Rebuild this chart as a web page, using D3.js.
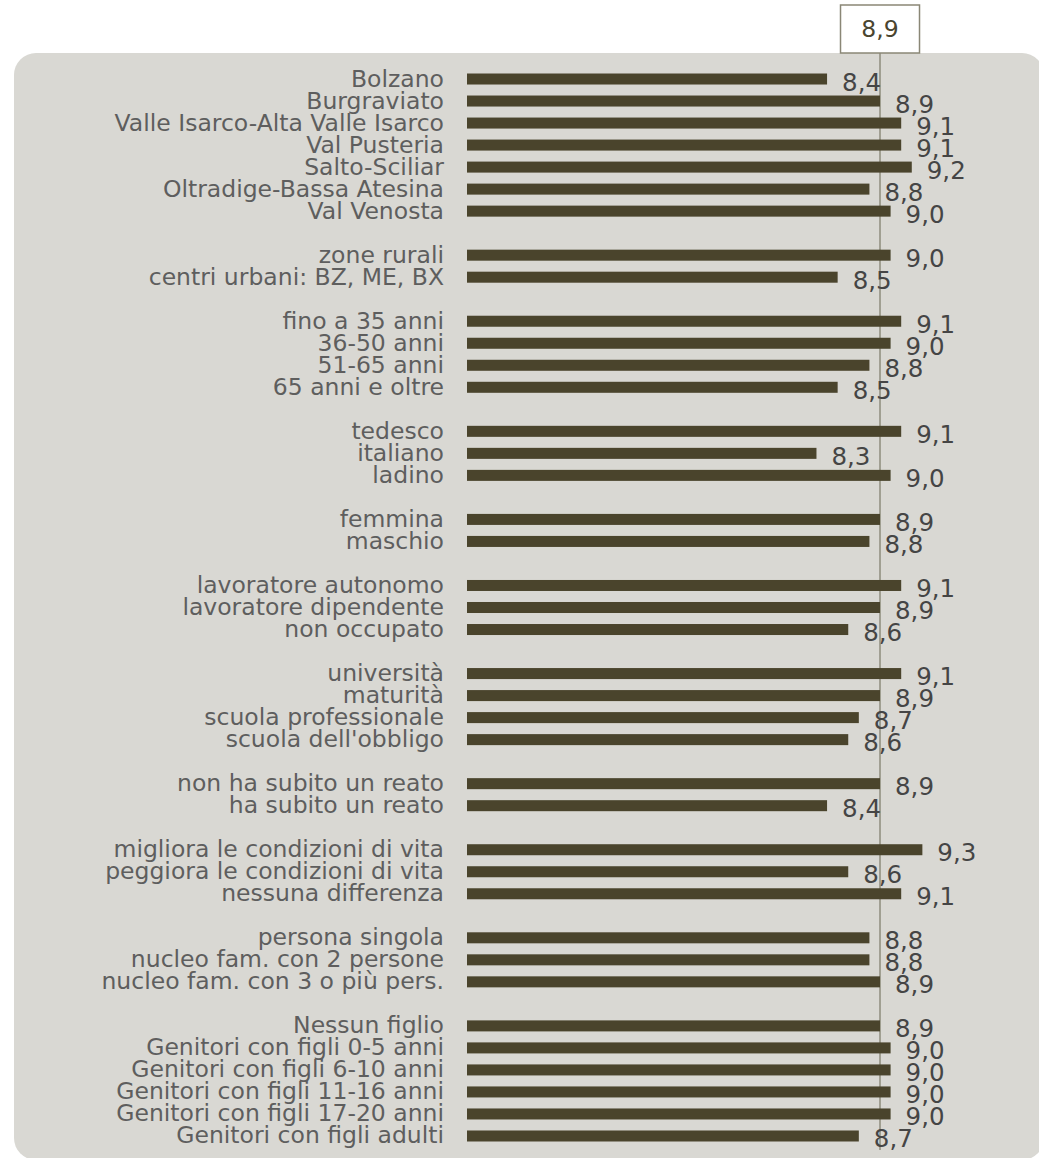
<!DOCTYPE html>
<html>
<head>
<meta charset="utf-8">
<script src="https://cdn.jsdelivr.net/npm/d3@7"></script>
<style>
  body { margin: 0; background: #ffffff; }
  svg { display: block; font-family: "DejaVu Sans", Verdana, sans-serif; }
</style>
</head>
<body>
<div id="chart"></div>
<script>
// chart data
var categories = [
  "Bolzano", "Burgraviato", "Valle Isarco-Alta Valle Isarco", "Val Pusteria", "Salto-Sciliar", "Oltradige-Bassa Atesina", "Val Venosta",
  "zone rurali", "centri urbani: BZ, ME, BX",
  "fino a 35 anni", "36-50 anni", "51-65 anni", "65 anni e oltre",
  "tedesco", "italiano", "ladino",
  "femmina", "maschio",
  "lavoratore autonomo", "lavoratore dipendente", "non occupato",
  "università", "maturità", "scuola professionale", "scuola dell'obbligo",
  "non ha subito un reato", "ha subito un reato",
  "migliora le condizioni di vita", "peggiora le condizioni di vita", "nessuna differenza",
  "persona singola", "nucleo fam. con 2 persone", "nucleo fam. con 3 o più pers.",
  "Nessun figlio", "Genitori con figli 0-5 anni", "Genitori con figli 6-10 anni", "Genitori con figli 11-16 anni", "Genitori con figli 17-20 anni", "Genitori con figli adulti"
];
var values = [
  8.4, 8.9, 9.1, 9.1, 9.2, 8.8, 9.0,
  9.0, 8.5,
  9.1, 9.0, 8.8, 8.5,
  9.1, 8.3, 9.0,
  8.9, 8.8,
  9.1, 8.9, 8.6,
  9.1, 8.9, 8.7, 8.6,
  8.9, 8.4,
  9.3, 8.6, 9.1,
  8.8, 8.8, 8.9,
  8.9, 9.0, 9.0, 9.0, 9.0, 8.7
];
var groupSizes = [7, 2, 4, 3, 2, 3, 4, 2, 3, 3, 6];
var referenceValue = 8.9;

var svgWidth = 1039, svgHeight = 1158;

var svg = d3.select("#chart").append("svg")
  .attr("width", svgWidth)
  .attr("height", svgHeight);

// slot index for each row (an empty slot between groups)
var rows = [];
var slot = 0, k = 0;
groupSizes.forEach(function(n, g) {
  for (var i = 0; i < n; i++) {
    rows.push({ label: categories[k], value: values[k], slot: slot });
    k++; slot++;
  }
  if (g < groupSizes.length - 1) slot++;
});

var fmt = function(v) { return d3.format(".1f")(v).replace(".", ","); };

var xScale = d3.scaleLinear().domain([5, 10]).range([467, 996.5]);
var yScale = d3.scaleBand()
  .domain(d3.range(slot))
  .range([68, 1147])
  .paddingInner(0.5)
  .paddingOuter(0.25);

// background panel
svg.append("rect")
  .attr("x", 14).attr("y", 53)
  .attr("width", 1030).attr("height", 1107)
  .attr("rx", 22).attr("ry", 22)
  .attr("fill", "#d9d8d3");

// reference line
svg.append("line")
  .attr("x1", xScale(referenceValue)).attr("x2", xScale(referenceValue))
  .attr("y1", 53).attr("y2", 1150)
  .attr("stroke", "#8e8c7d")
  .attr("stroke-width", 1.5);

// bars
svg.append("g").selectAll("rect")
  .data(rows)
  .enter()
  .append("rect")
  .attr("x", xScale(5))
  .attr("y", d => yScale(d.slot))
  .attr("width", d => xScale(d.value) - xScale(5))
  .attr("height", yScale.bandwidth())
  .attr("fill", "#4a442c");

// category labels
svg.append("g").selectAll("text")
  .data(rows)
  .enter()
  .append("text")
  .attr("x", 444)
  .attr("y", d => yScale(d.slot) + yScale.bandwidth() / 2 + 7.5)
  .attr("text-anchor", "end")
  .attr("font-size", 23.5)
  .attr("fill", "#5e5e5e")
  .text(d => d.label);

// value labels
svg.append("g").selectAll("text")
  .data(rows)
  .enter()
  .append("text")
  .attr("x", d => xScale(d.value) + 15)
  .attr("y", d => yScale(d.slot) + yScale.bandwidth() / 2 + 11.5)
  .attr("font-size", 24.5)
  .attr("fill", "#454545")
  .text(d => fmt(d.value));

// reference box on top
var cx = xScale(referenceValue);
svg.append("rect")
  .attr("x", cx - 39.5).attr("y", 5)
  .attr("width", 79).attr("height", 48)
  .attr("fill", "#ffffff")
  .attr("stroke", "#8a8776")
  .attr("stroke-width", 1.5);

svg.append("text")
  .attr("x", cx)
  .attr("y", 37)
  .attr("text-anchor", "middle")
  .attr("font-size", 23.5)
  .attr("fill", "#4a452f")
  .text(fmt(referenceValue));
</script>
</body>
</html>
